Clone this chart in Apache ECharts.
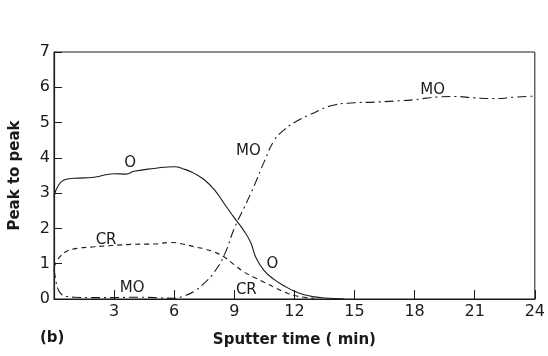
<!DOCTYPE html>
<html>
<head>
    <meta charset="UTF-8">
    <title>Peak to peak vs sputter time</title>
    <style>
        html, body { margin: 0; padding: 0; background: #fff; }
        #main { width: 548px; height: 356px; }
    </style>
    <script src="https://cdn.jsdelivr.net/npm/echarts@6/dist/echarts.min.js"></script>
</head>
<body>
    <div id="main"></div>
    <script>
        // sputter time (min), peak-to-peak height
        var oCurve = [
            [0, 2.9], [0.2, 3.2], [0.5, 3.37], [1, 3.42], [2, 3.45], [3, 3.55], [3.6, 3.54],
            [4, 3.62], [5, 3.7], [6, 3.75], [6.5, 3.68], [7, 3.56], [7.5, 3.38], [8, 3.1],
            [8.5, 2.7], [9, 2.3], [9.4, 2.0], [9.8, 1.62], [10.1, 1.15], [10.5, 0.8],
            [11, 0.55], [11.5, 0.37], [12, 0.22], [12.5, 0.12], [13, 0.06], [13.5, 0.03],
            [14.5, 0]
        ];
        var crCurve = [
            [0, 0.9], [0.15, 1.08], [0.3, 1.2], [0.6, 1.34], [1, 1.42], [2, 1.48], [3, 1.52],
            [4, 1.55], [5, 1.56], [5.8, 1.6], [6.5, 1.55], [7, 1.48], [7.5, 1.42], [8, 1.33],
            [8.5, 1.19], [9, 0.97], [9.5, 0.76], [10, 0.61], [10.5, 0.47], [11, 0.33],
            [11.5, 0.2], [12, 0.1], [12.5, 0.05], [13, 0.02]
        ];
        var moCurve = [
            [0, 0.85], [0.1, 0.5], [0.2, 0.28], [0.4, 0.12], [0.7, 0.07], [1, 0.05], [2, 0.04],
            [3, 0.04], [4, 0.05], [5, 0.04], [6, 0.02], [6.5, 0.09], [7, 0.22], [7.5, 0.45],
            [8, 0.76], [8.5, 1.25], [9, 2.0], [9.5, 2.6], [10, 3.22], [10.5, 3.9], [11, 4.5],
            [11.5, 4.8], [12, 5.0], [13, 5.28], [14, 5.5], [15, 5.56], [16, 5.58], [17, 5.61],
            [18, 5.65], [19, 5.72], [20, 5.74], [21, 5.7], [22, 5.68], [23, 5.72], [24, 5.75]
        ];
        // curve annotations placed in data coordinates
        var oLabels = [['O', 3.8, 3.85], ['O', 10.9, 1.0]];
        var crLabels = [['CR', 2.6, 1.68], ['CR', 9.6, 0.26]];
        var moLabels = [['MO', 3.9, 0.3], ['MO', 9.7, 4.2], ['MO', 18.9, 5.93]];

        var xTicks = [3, 6, 9, 12, 15, 18, 21, 24];
        var ink = '#1a1a1a';

        function tags(list) {
            return {
                symbol: 'circle',
                symbolSize: 0,
                silent: true,
                animation: false,
                label: {
                    show: true,
                    position: 'inside',
                    color: ink,
                    fontFamily: 'DejaVu Sans',
                    fontSize: 15,
                    formatter: function (p) { return p.name; }
                },
                data: list.map(function (l) {
                    return { name: l[0], coord: [l[1], l[2]] };
                })
            };
        }

        function curve(name, data, dash, labels) {
            return {
                name: name,
                type: 'line',
                data: data,
                showSymbol: false,
                smooth: 0.5,
                lineStyle: { color: ink, width: 1.1, type: dash },
                markPoint: tags(labels),
                animation: false
            };
        }

        var myChart = echarts.init(document.getElementById('main'));
        myChart.setOption({
            backgroundColor: '#fff',
            grid: {
                left: 52, right: 10, top: 52, bottom: 57,
                show: true, borderColor: ink, borderWidth: 1
            },
            xAxis: {
                type: 'value',
                min: 0, max: 24, interval: 3,
                axisLine: { lineStyle: { color: ink, width: 1.2 } },
                axisTick: { inside: true, length: 9, lineStyle: { color: ink } },
                splitLine: { show: false },
                axisLabel: {
                    color: ink, fontFamily: 'DejaVu Sans', fontSize: 16, margin: 5,
                    formatter: function (v) { return xTicks.indexOf(v) >= 0 ? v : ''; }
                },
                name: 'Sputter time ( min)',
                nameLocation: 'middle',
                nameGap: 34,
                nameTextStyle: { color: ink, fontFamily: 'DejaVu Sans', fontWeight: 'bold', fontSize: 15 }
            },
            yAxis: {
                type: 'value',
                min: 0, max: 7, interval: 1,
                axisLine: { show: true, lineStyle: { color: ink, width: 1.2 } },
                axisTick: { show: true, inside: true, length: 8, lineStyle: { color: ink } },
                splitLine: { show: false },
                axisLabel: { color: ink, fontFamily: 'DejaVu Sans', fontSize: 16, margin: 4 },
                name: 'Peak to peak',
                nameLocation: 'middle',
                nameGap: 31,
                nameTextStyle: { color: ink, fontFamily: 'DejaVu Sans', fontWeight: 'bold', fontSize: 15 }
            },
            graphic: [{
                type: 'text',
                left: 40,
                top: 331,
                style: { text: '(b)', fill: ink, font: 'bold 15px "DejaVu Sans"' }
            }],
            series: [
                curve('O', oCurve, 'solid', oLabels),
                curve('CR', crCurve, [5, 4], crLabels),
                curve('MO', moCurve, [9, 4, 2, 4], moLabels)
            ]
        });
    </script>
</body>
</html>
